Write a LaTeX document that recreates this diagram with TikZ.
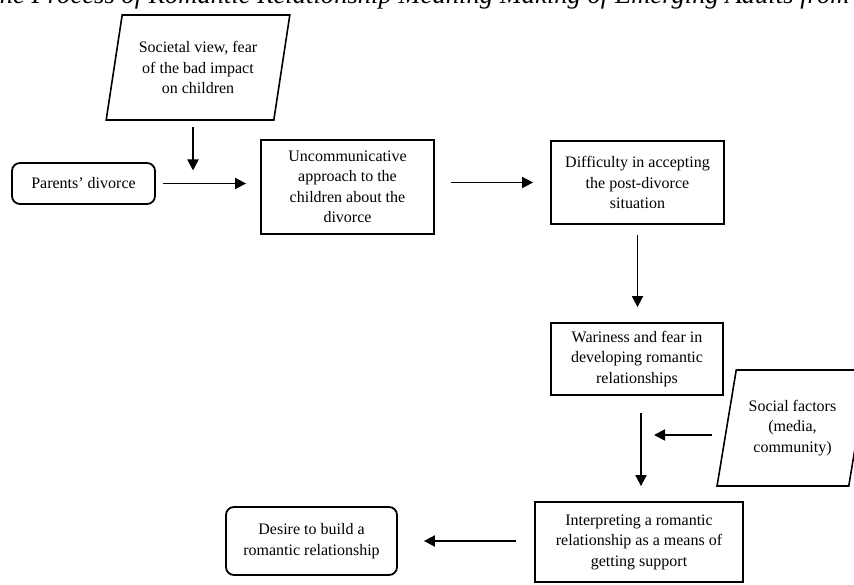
\documentclass[tikz,border=0pt]{standalone}
\usepackage{fontspec}
\setmainfont{Liberation Serif}
\usetikzlibrary{arrows.meta,shapes.geometric}

\begin{document}
\begin{tikzpicture}[x=1pt, y=-1pt,
  every node/.style={font=\fontsize{16pt}{20.5pt}\selectfont, align=center},
  box/.style={draw, line width=1.8pt, inner sep=0pt},
  rbox/.style={box, rounded corners=8pt},
  para/.style={draw, line width=1.6pt, trapezium, trapezium stretches=true, inner sep=0pt},
  arr/.style={line width=1.8pt, -{Triangle[length=11pt, width=11pt]}}]
  \useasboundingbox (0,0) rectangle (854,585);
  \clip (0,0) rectangle (854,585);

  \node[font=\fontsize{26.6pt}{30pt}\selectfont\itshape, anchor=base east] (title) at (853,4)
    {The Process of Romantic Relationship Meaning Making of Emerging Adults from};

  % inputs
  \node[para, trapezium left angle=76.6, trapezium right angle=103.4,
        minimum width=184pt, minimum height=105pt] (soc) at (198,67.5)
    {Societal view, fear\\of the bad impact\\on children};
  \node[para, trapezium left angle=75, trapezium right angle=105,
        minimum width=151pt, minimum height=116pt] (sf) at (792.5,428)
    {Social factors\\(media,\\community)};

  % main chain
  \node[rbox, minimum width=143pt, minimum height=41pt] (par) at (83.5,183.5) {Parents' divorce};
  \node[box, minimum width=173pt, minimum height=94pt] (unc) at (347.5,187)
    {Uncommunicative\\approach to the\\children about the\\divorce};
  \node[box, minimum width=173pt, minimum height=83pt] (dif) at (637.5,182.5)
    {Difficulty in accepting\\the post-divorce\\situation};
  \node[box, minimum width=172pt, minimum height=72pt] (war) at (637,359)
    {Wariness and fear in\\developing romantic\\relationships};
  \node[box, minimum width=208pt, minimum height=80pt] (int) at (639,542)
    {Interpreting a romantic\\relationship as a means of\\getting support};
  \node[rbox, minimum width=171pt, minimum height=68pt] (des) at (311.5,541)
    {Desire to build a\\romantic relationship};

  \coordinate (m) at (193,183.5);
  \coordinate (j) at (641,435);

  \draw[arr, shorten <=7pt, shorten >=14pt] (par.east) -- (par.east -| unc.west);
  \draw[arr, shorten <=6pt, shorten >=13pt] (soc.south -| m) -- (m);
  \draw[arr, shorten <=16pt, shorten >=17pt] (unc.east |- dif.west) -- (dif.west);
  \draw[arr, shorten <=10pt, shorten >=15pt] (dif.south) -- (dif.south |- war.north);
  \draw[arr, shorten <=17pt, shorten >=15pt] (war.south -| j) -- (int.north -| j);
  \draw[arr, shorten >=13pt] ([xshift=-14pt]sf.west |- j) -- (j);
  \draw[arr, shorten <=18pt, shorten >=26pt] (int.west |- des.east) -- (des.east);
\end{tikzpicture}
\end{document}
